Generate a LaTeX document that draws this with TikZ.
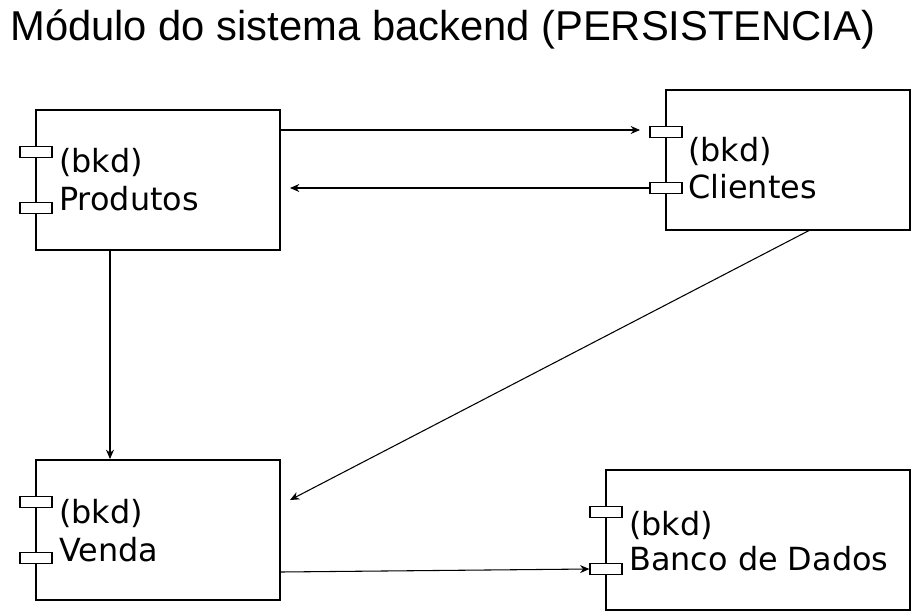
\documentclass[tikz,border=0pt]{standalone}
\usepackage{fontspec}
\setmainfont{DejaVu Sans}
\newfontfamily\titlefont{Liberation Sans}
\usetikzlibrary{arrows.meta}
\begin{document}
\begin{tikzpicture}[x=0.75pt,y=-0.75pt,
  comp/.style={draw,line width=0.9pt,minimum height=105pt,inner sep=0pt},
  port/.style={draw,fill=white,line width=0.9pt,minimum width=24pt,minimum height=8.25pt,inner sep=0pt},
  lbl/.style={anchor=base west,inner sep=0pt,font=\fontsize{23.9pt}{28pt}\selectfont},
  conn/.style={line width=0.8pt,-{Stealth[length=7pt,width=6pt]}}]
\useasboundingbox (0,0) rectangle (912,611);
\node[anchor=base west,inner sep=0pt,font=\titlefont\fontsize{31.3pt}{36pt}\selectfont] (title) at (10,40) {Módulo do sistema backend (PERSISTENCIA)};
% components
\node[comp,minimum width=183pt] (prod) at (158,180) {};
\node[comp,minimum width=183pt] (cli) at (788,160) {};
\node[comp,minimum width=183pt] (ven) at (158,530) {};
\node[comp,minimum width=228pt] (bd) at (758,540) {};
% ports
\node[port] (p1) at (36,152) {};
\node[port] (p2) at (36,208) {};
\node[port] (c1) at (666,132) {};
\node[port] (c2) at (666,188) {};
\node[port] (v1) at (36,502) {};
\node[port] (v2) at (36,558) {};
\node[port] (b1) at (606,512) {};
\node[port] (b2) at (606,569) {};
% labels
\node[lbl] (pl1) at (59,172) {(bkd)};
\node[lbl] (pl2) at (59,210) {Produtos};
\node[lbl] (cl1) at (688,161) {(bkd)};
\node[lbl] (cl2) at (688,198) {Clientes};
\node[lbl] (vl1) at (59,523) {(bkd)};
\node[lbl] (vl2) at (59,561) {Venda};
\node[lbl] (bl1) at (629,535) {(bkd)};
\node[lbl] (bl2) at (629,570) {Banco de Dados};
% connector end points
\coordinate (a1s) at (280,130);
\coordinate (a1e) at (640,130);
\coordinate (a2e) at (290,188);
\coordinate (a3s) at (110,250);
\coordinate (a3e) at (110,459);
\coordinate (a4s) at (810,230);
\coordinate (a4e) at (290,500);
\coordinate (a5s) at (280,572);
% connectors
\draw[conn] (a1s) -- (a1e);
\draw[conn] (c2.west) -- (a2e);
\draw[conn] (a3s) -- (a3e);
\draw[conn] (a4s) -- (a4e);
\draw[conn] (a5s) -- (b2.west);
\end{tikzpicture}
\end{document}
